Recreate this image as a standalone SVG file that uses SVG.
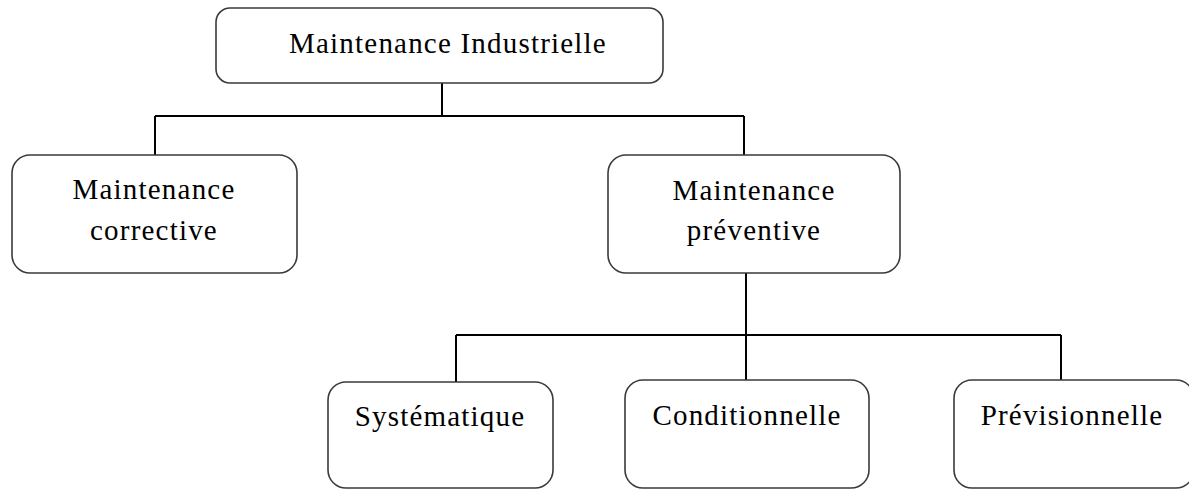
<svg xmlns="http://www.w3.org/2000/svg" width="1189" height="490" viewBox="0 0 1189 490">
<style>
.box{fill:#fff;stroke:#3a3a3a;stroke-width:1.6}
.lbl{font-family:"Liberation Serif","Times New Roman",serif;font-size:29px;fill:#000;text-anchor:middle;letter-spacing:1.2px}
.conn{fill:none;stroke:#000;stroke-width:2}
</style>
<rect width="1189" height="490" fill="#fff"/>
<g id="connectors">
<path class="conn" d="M442 83 V116 M155 116 H744 M155 116 V155 M744 116 V155"/>
<path class="conn" d="M746 273 V335 M456 335 H1061 M456 335 V382 M746 335 V380 M1061 335 V380"/>
</g>
<g id="n-industrielle">
<rect class="box" x="216" y="8" width="447" height="75" rx="14"/>
<text class="lbl" x="448" y="53">Maintenance Industrielle</text>
</g>
<g id="n-corrective">
<rect class="box" x="12" y="155" width="285" height="118" rx="18"/>
<text class="lbl" x="154" y="199">Maintenance</text>
<text class="lbl" x="154" y="240">corrective</text>
</g>
<g id="n-preventive">
<rect class="box" x="608" y="155" width="292" height="118" rx="18"/>
<text class="lbl" x="754" y="200">Maintenance</text>
<text class="lbl" x="754" y="240">préventive</text>
</g>
<g id="n-systematique">
<rect class="box" x="328" y="382" width="225" height="106" rx="18"/>
<text class="lbl" x="440" y="426">Systématique</text>
</g>
<g id="n-conditionnelle">
<rect class="box" x="625" y="380" width="244" height="108" rx="18"/>
<text class="lbl" x="747" y="425">Conditionnelle</text>
</g>
<g id="n-previsionnelle">
<rect class="box" x="954" y="380" width="240" height="108" rx="18"/>
<text class="lbl" x="1072" y="425">Prévisionnelle</text>
</g>
</svg>
